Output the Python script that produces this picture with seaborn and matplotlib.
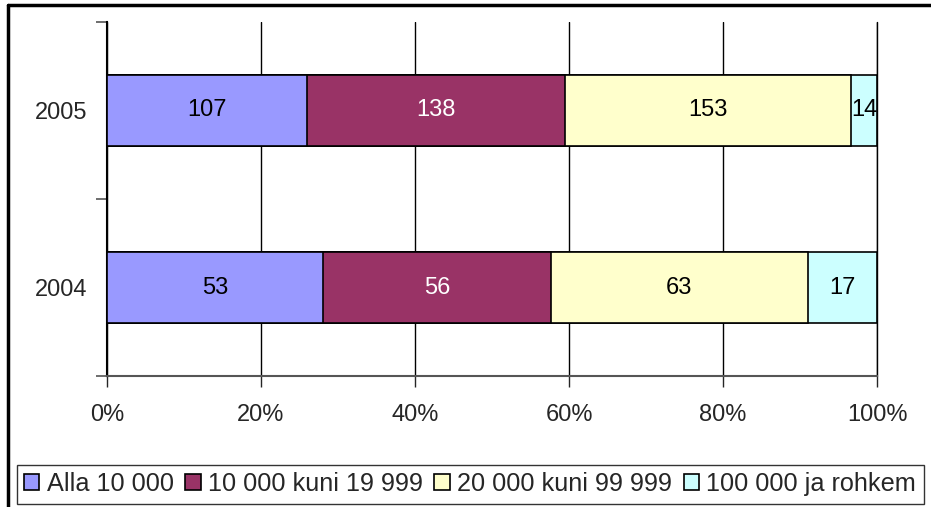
import numpy as np
import pandas as pd
import seaborn as sns
import matplotlib.pyplot as plt
from matplotlib.lines import Line2D
from matplotlib.patches import Patch

# data
years = ["2005", "2004"]
series = ["Alla 10 000", "10 000 kuni 19 999", "20 000 kuni 99 999", "100 000 ja rohkem"]
alla_10000 = [107, 53]
kuni_19999 = [138, 56]
kuni_99999 = [153, 63]
ja_rohkem = [14, 17]
colors = ["#9999FF", "#993366", "#FFFFCC", "#CCFFFF"]
text_colors = ["black", "white", "black", "black"]

sns.set_style("white")
plt.rcParams["font.family"] = ["Liberation Sans", "DejaVu Sans"]

counts = np.array([alla_10000, kuni_19999, kuni_99999, ja_rohkem], dtype=float)
pct = counts / counts.sum(axis=0) * 100
cum = pct.cumsum(axis=0)

fig = plt.figure(figsize=(9.31, 5.07), dpi=100)
ax = fig.add_axes([0.115, 0.258, 0.827, 0.699])

# stacked bars: draw cumulative totals from the widest down
for i in range(len(series) - 1, -1, -1):
    df = pd.DataFrame({"year": years, "value": cum[i]})
    sns.barplot(data=df, x="value", y="year", order=years, color=colors[i],
                saturation=1, width=0.4, edgecolor="black", linewidth=1.2,
                orient="h", ax=ax, zorder=3)

# value labels centred in each segment
for i in range(len(series)):
    for j in range(len(years)):
        ax.text(cum[i][j] - pct[i][j] / 2, j, str(int(counts[i][j])),
                ha="center", va="center", fontsize=17, color=text_colors[i], zorder=5)

ax.set_xlim(0, 100)
ax.set_ylim(1.5, -0.5)
ax.set_xticks([0, 20, 40, 60, 80, 100])
ax.set_xticklabels([f"{v}%" for v in [0, 20, 40, 60, 80, 100]])
ax.set_yticks([-0.5, 0.5, 1.5])
ax.set_yticklabels([])
ax.set_yticks([0, 1], minor=True)
ax.set_yticklabels(years, minor=True)
ax.tick_params(axis="y", which="minor", length=0, labelsize=17, pad=14)
ax.tick_params(axis="y", which="major", length=8, width=1.2, color="#555555", direction="out", left=True)
ax.tick_params(axis="x", length=8, width=1, direction="out", bottom=True, labelsize=17, pad=12)
ax.set_xlabel("")
ax.set_ylabel("")
ax.grid(axis="x", color="black", linewidth=1, zorder=0)
ax.set_axisbelow(True)
ax.axvline(100, color="black", linewidth=1, zorder=0, clip_on=False)
for side in ["top", "right"]:
    ax.spines[side].set_visible(False)
ax.spines["left"].set_color("black")
ax.spines["left"].set_linewidth(1.5)
ax.spines["bottom"].set_color("#555555")
ax.spines["bottom"].set_linewidth(1.5)

handles = [Patch(facecolor=c, edgecolor="black", linewidth=1.2) for c in colors]
leg = fig.legend(handles, series, loc="center", bbox_to_anchor=(0.505, 0.045),
                 ncol=4, frameon=True, fancybox=False, edgecolor="black", fontsize=18.2,
                 handlelength=0.6, handleheight=0.6, handletextpad=0.3, columnspacing=0.45,
                 borderpad=0.3, borderaxespad=0)
leg.get_frame().set_linewidth(1)

# outer chart border (left and top edges visible)
fig.add_artist(Line2D([8 / 931, 8 / 931], [0, 1 - 5 / 507], color="black", linewidth=2.5))
fig.add_artist(Line2D([8 / 931, 1], [1 - 5 / 507, 1 - 5 / 507], color="black", linewidth=2.5))

fig.savefig("out.png", dpi=100)
